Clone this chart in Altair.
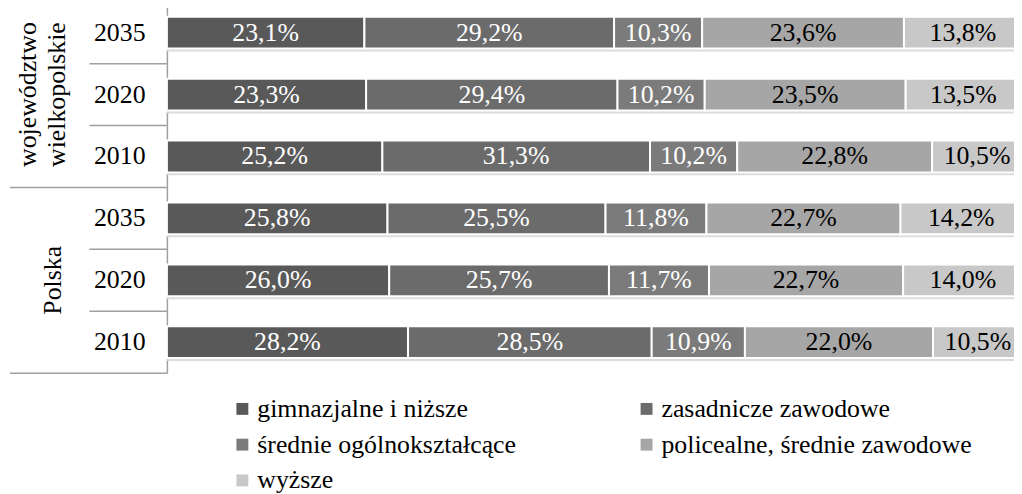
import altair as alt
import pandas as pd

categories = ["gimnazjalne i niższe", "zasadnicze zawodowe", "średnie ogólnokształcące",
              "policealne, średnie zawodowe", "wyższe"]
colors = ["#595959", "#6b6b6b", "#7b7b7b", "#a6a6a6", "#c8c8c8"]
label_colors = ["white", "white", "white", "black", "black"]

row_keys = ["W|2035", "W|2020", "W|2010", "P|2035", "P|2020", "P|2010"]
years = ["2035", "2020", "2010", "2035", "2020", "2010"]

gimnazjalne = [23.1, 23.3, 25.2, 25.8, 26.0, 28.2]
zasadnicze = [29.2, 29.4, 31.3, 25.5, 25.7, 28.5]
srednie = [10.3, 10.2, 10.2, 11.8, 11.7, 10.9]
policealne = [23.6, 23.5, 22.8, 22.7, 22.7, 22.0]
wyzsze = [13.8, 13.5, 10.5, 14.2, 14.0, 10.5]

series = [gimnazjalne, zasadnicze, srednie, policealne, wyzsze]

records = []
for ci, (cat, vals) in enumerate(zip(categories, series)):
    for ri, key in enumerate(row_keys):
        v = vals[ri]
        records.append({
            "row": key,
            "cat": cat,
            "order": ci,
            "value": v,
            "label": f"{v:.1f}%".replace(".", ","),
            "tcolor": label_colors[ci],
        })
df = pd.DataFrame(records)

FONT = "Liberation Serif"
FS = 26

yscale = alt.Scale(domain=row_keys, paddingInner=0, paddingOuter=0)
y_plain = alt.Y("row:N", scale=yscale, sort=row_keys, title=None)

base = alt.Chart(df).transform_stack(
    stack="value", groupby=["row"], as_=["x0", "x1"],
    sort=[alt.SortField("order", order="ascending")]
).transform_calculate(mid="(datum.x0 + datum.x1) / 2")

xscale = alt.Scale(domain=[0, 100], nice=False, zero=True)

shadow = alt.Chart(pd.DataFrame({"row": row_keys, "start": [0] * 6, "end": [100] * 6})).mark_bar(
    color="#dcdcdc", height={"band": 0.513}, yOffset=3
).encode(
    x=alt.X("start:Q", scale=xscale, axis=None),
    x2="end:Q",
    y=y_plain,
)

bars = base.mark_bar(stroke="white", strokeWidth=2, height={"band": 0.513}).encode(
    x=alt.X("x0:Q", scale=xscale, axis=None),
    x2="x1:Q",
    y=alt.Y("row:N", scale=yscale, sort=row_keys, title=None,
            axis=alt.Axis(labelExpr="split(datum.label, '|')[1]", labelFont=FONT,
                          labelFontSize=FS, labelColor="black", labelPadding=22,
                          ticks=False, tickSize=0, domainColor="#a0a0a0", domainWidth=1.5,
                          grid=False, labelBaseline="middle")),
    color=alt.Color("cat:N", scale=alt.Scale(domain=categories, range=colors),
                    legend=alt.Legend(title=None, orient="none", legendX=63, legendY=397,
                                      columns=2, direction="horizontal",
                                      columnPadding=118, rowPadding=10,
                                      symbolType="square", symbolSize=144,
                                      symbolStrokeWidth=0, labelFont=FONT,
                                      labelFontSize=FS, labelColor="black",
                                      labelOffset=2, padding=0, labelLimit=400)),
)

texts = base.mark_text(font=FONT, fontSize=FS, align="center", baseline="middle").encode(
    x=alt.X("mid:Q", scale=xscale, axis=None),
    y=y_plain,
    text="label:N",
    color=alt.Color("tcolor:N", scale=None),
)

short_rows = ["W|2035", "W|2020", "P|2035", "P|2020"]
long_rows = ["W|2010", "P|2010"]

short_rules = alt.Chart(pd.DataFrame({"row": short_rows})).mark_rule(
    color="#a0a0a0", strokeWidth=1.5
).encode(
    y=alt.Y("row:N", scale=yscale, sort=row_keys, bandPosition=1, title=None),
    x=alt.value(-78), x2=alt.value(0),
)

long_rules = alt.Chart(pd.DataFrame({"row": long_rows})).mark_rule(
    color="#a0a0a0", strokeWidth=1.5
).encode(
    y=alt.Y("row:N", scale=yscale, sort=row_keys, bandPosition=1, title=None),
    x=alt.value(-158), x2=alt.value(0),
)

region_w = alt.Chart(pd.DataFrame({"row": ["W|2020"]})).mark_text(
    text=["województwo", "wielkopolskie"], angle=270, font=FONT, fontSize=FS,
    lineHeight=29, align="center", baseline="middle", color="black"
).encode(y=y_plain, x=alt.value(-140))

region_p = alt.Chart(pd.DataFrame({"row": ["P|2020"]})).mark_text(
    text="Polska", angle=270, font=FONT, fontSize=FS,
    align="center", baseline="middle", color="black"
).encode(y=y_plain, x=alt.value(-115))

chart = alt.layer(shadow, bars, texts, short_rules, long_rules, region_w, region_p).properties(
    width=861, height=374,
    autosize=alt.AutoSizeParams(type="none"),
    padding={"left": 160, "top": -8, "right": -8, "bottom": 120},
).configure(background="white", font=FONT).configure_view(stroke=None).configure_text(
    font=FONT
).configure_legend(labelFont=FONT).configure_axis(labelFont=FONT)

chart.save("out.html", embed_options={"renderer": "svg", "actions": False})
